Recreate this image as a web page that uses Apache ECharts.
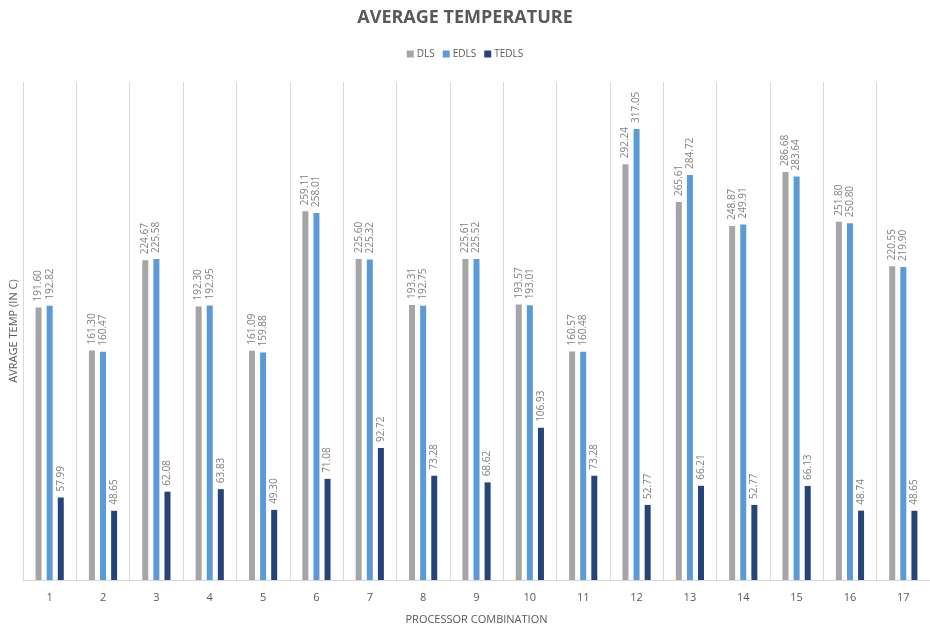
<!DOCTYPE html>
<html>
<head>
<meta charset="utf-8">
<script src="https://cdn.jsdelivr.net/npm/echarts@6/dist/echarts.min.js"></script>
<style>
  html, body { margin: 0; padding: 0; background: #fff; overflow: hidden; }
  #chart { width: 930px; height: 631px; }
</style>
</head>
<body>
<div id="chart"></div>
<script>
// Processor combinations 1..17
const categories = ['1','2','3','4','5','6','7','8','9','10','11','12','13','14','15','16','17'];

// Average temperatures (°C) per scheduling algorithm
const dls   = [191.60, 161.30, 224.67, 192.30, 161.09, 259.11, 225.60, 193.31, 225.61, 193.57, 160.57, 292.24, 265.61, 248.87, 286.68, 251.80, 220.55];
const edls  = [192.82, 160.47, 225.58, 192.95, 159.88, 258.01, 225.32, 192.75, 225.52, 193.01, 160.48, 317.05, 284.72, 249.91, 283.64, 250.80, 219.90];
const tedls = [57.99, 48.65, 62.08, 63.83, 49.30, 71.08, 92.72, 73.28, 68.62, 106.93, 73.28, 52.77, 66.21, 52.77, 66.13, 48.74, 48.65];

const FONT = '"Open Sans", "Liberation Sans", sans-serif';

function barSeries(name, data, color) {
  return {
    name: name,
    type: 'bar',
    data: data,
    barWidth: 6,
    barGap: '85%',
    itemStyle: { color: color },
    label: {
      show: true,
      position: 'top',
      rotate: 90,
      align: 'left',
      verticalAlign: 'middle',
      distance: 6,
      color: '#7f7f7f',
      fontSize: 10,
      fontFamily: FONT,
      formatter: p => p.value.toFixed(2)
    }
  };
}

const chart = echarts.init(document.getElementById('chart'), null, { renderer: 'canvas' });
chart.setOption({
  animation: false,
  title: {
    text: 'AVERAGE TEMPERATURE',
    left: 'center',
    top: 4,
    textStyle: { color: '#595959', fontSize: 18, fontWeight: 'bold', fontFamily: FONT }
  },
  legend: {
    top: 44,
    left: 'center',
    itemWidth: 7,
    itemHeight: 7,
    itemGap: 8,
    icon: 'rect',
    textStyle: { color: '#595959', fontSize: 10, fontFamily: FONT, padding: [0, 0, 0, -2] },
    data: ['DLS', 'EDLS', 'TEDLS']
  },
  grid: { left: 21, right: -7, top: 82, bottom: 51 },
  xAxis: {
    type: 'category',
    data: categories,
    name: 'PROCESSOR COMBINATION',
    nameLocation: 'middle',
    nameGap: 34,
    nameTextStyle: { color: '#595959', fontSize: 11, fontFamily: FONT },
    axisLine: { lineStyle: { color: '#d9d9d9' } },
    axisTick: { show: false },
    axisLabel: { color: '#595959', fontSize: 11, fontFamily: FONT, margin: 12 },
    splitLine: { show: true, lineStyle: { color: '#d9d9d9', width: 1 } }
  },
  yAxis: {
    type: 'value',
    min: 0,
    max: 350,
    name: 'AVRAGE TEMP (IN C)',
    nameLocation: 'middle',
    nameGap: 4,
    nameTextStyle: { color: '#595959', fontSize: 11, fontFamily: FONT },
    axisLine: { show: false },
    axisTick: { show: false },
    axisLabel: { show: false },
    splitLine: { show: false }
  },
  series: [
    barSeries('DLS', dls, '#a5a5a5'),
    barSeries('EDLS', edls, '#5b9bd5'),
    barSeries('TEDLS', tedls, '#264478')
  ]
});
</script>
</body>
</html>
